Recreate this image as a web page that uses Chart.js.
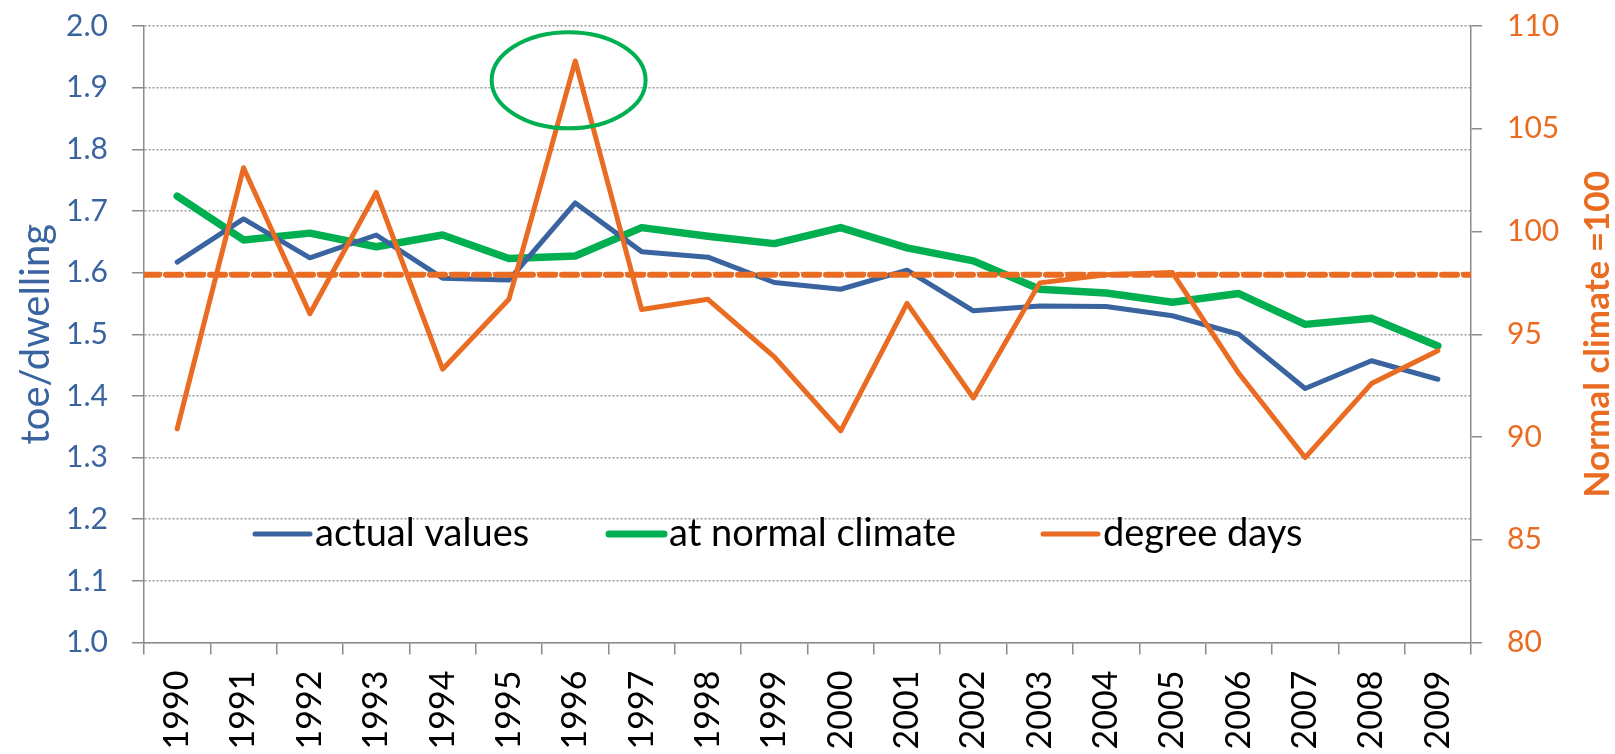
<!DOCTYPE html>
<html>
<head>
<meta charset="utf-8">
<script src="https://cdn.jsdelivr.net/npm/chart.js@4/dist/chart.umd.min.js"></script>
<style>
  html, body { margin: 0; padding: 0; background: #fff; }
  #wrap { width: 1615px; height: 754px; position: relative; }
</style>
</head>
<body>
<div id="wrap"><canvas id="bieuDo"></canvas></div>
<script>
// du lieu doc tu hinh
const years = ["1990","1991","1992","1993","1994","1995","1996","1997","1998","1999",
               "2000","2001","2002","2003","2004","2005","2006","2007","2008","2009"];
const actualValues = [1.617,1.687,1.624,1.661,1.591,1.588,1.713,1.634,1.625,1.584,
                      1.573,1.604,1.538,1.546,1.545,1.530,1.500,1.412,1.457,1.427];
const normalClimate = [1.724,1.653,1.664,1.642,1.661,1.623,1.627,1.673,1.659,1.647,
                       1.673,1.640,1.619,1.573,1.567,1.552,1.566,1.516,1.526,1.481];
const degreeDays = [90.4,103.1,96.0,101.9,93.3,96.7,108.3,96.2,96.7,93.9,
                    90.3,96.5,91.9,97.5,97.9,98.0,93.1,89.0,92.6,94.2];
const normalLevel = [97.9, 97.9];
const leftTicks = [1.0, 2.0, 0.1];   // min, max, step
const rightTicks = [80, 110, 5];
const seriesNames = ["actual values", "at normal climate", "degree days"];

const xanh = "#3A64A0";
const laCay = "#00B050";
const cam = "#EA6B22";
const xam = "#8C8C8C";

// vong elip quanh dinh 1996
const elip = { year: "1996", shift: -0.1, y: 1.912, rx: 1.16, ry: 0.078 };

const elipPlugin = {
    id: "elip",
    afterDatasetsDraw(chart) {
        const x = chart.scales.x, y = chart.scales.y;
        const i = years.indexOf(elip.year);
        const cx = x.getPixelForValue(i + elip.shift);
        const cy = y.getPixelForValue(elip.y);
        const buoc = x.getPixelForValue(1) - x.getPixelForValue(0);
        const rx = elip.rx * buoc;
        const ry = Math.abs(y.getPixelForValue(elip.y + elip.ry) - cy);
        const ctx = chart.ctx;
        ctx.save();
        ctx.strokeStyle = laCay;
        ctx.lineWidth = 4;
        ctx.beginPath();
        ctx.ellipse(cx, cy, rx, ry, 0, 0, Math.PI * 2);
        ctx.stroke();
        ctx.restore();
    }
};

// chu thich nam trong vung bieu do
const chuThichPlugin = {
    id: "chuThich",
    afterDraw(chart) {
        const ctx = chart.ctx;
        const area = chart.chartArea;
        const yPix = chart.scales.y.getPixelForValue(1.176);
        const mau = [xanh, laCay, cam];
        const day = [5, 7, 5];
        const viTri = [111, 465, 899];  // tinh tu mep trai vung ve
        ctx.save();
        ctx.font = "38px Lato";
        ctx.textBaseline = "middle";
        for (let i = 0; i < seriesNames.length; i++) {
            const x = area.left + viTri[i];
            ctx.strokeStyle = mau[i];
            ctx.lineWidth = day[i];
            ctx.lineCap = "round";
            ctx.beginPath();
            ctx.moveTo(x, yPix);
            ctx.lineTo(x + 55, yPix);
            ctx.stroke();
            ctx.fillStyle = "#000";
            ctx.fillText(seriesNames[i], x + 60, yPix);
        }
        ctx.restore();
    }
};

// tieu de truc phai, doc tu duoi len
const tieuDePhaiPlugin = {
    id: "tieuDePhai",
    afterDraw(chart) {
        const s = chart.scales.y2;
        const ctx = chart.ctx;
        ctx.save();
        ctx.translate(s.right - 17.5, (s.top + s.bottom) / 2);
        ctx.rotate(-Math.PI / 2);
        ctx.font = "bold 35px Lato";
        ctx.fillStyle = cam;
        ctx.textAlign = "center";
        ctx.textBaseline = "middle";
        ctx.fillText("Normal climate =100", 0, 0);
        ctx.restore();
    }
};

// co dinh kich thuoc cac truc
function coDinhTrai(scale) { scale.paddingTop = 0; scale.paddingBottom = 0; scale.width = 144; }
function coDinhPhai(scale) { scale.paddingTop = 0; scale.paddingBottom = 0; scale.width = 144; }
function coDinhDuoi(scale) { scale.paddingLeft = 0; scale.paddingRight = 0; scale.height = 111.5; }

const ctx = document.getElementById("bieuDo").getContext("2d");
new Chart(ctx, {
    type: "line",
    data: {
        labels: years,
        datasets: [
            { label: seriesNames[0], data: actualValues, yAxisID: "y", xAxisID: "x",
              borderColor: xanh, borderWidth: 5, order: 3 },
            { label: seriesNames[1], data: normalClimate, yAxisID: "y", xAxisID: "x",
              borderColor: laCay, borderWidth: 7.5, order: 4 },
            { label: seriesNames[2], data: degreeDays, yAxisID: "y2", xAxisID: "x",
              borderColor: cam, borderWidth: 5, order: 1 },
            { label: "normal", data: normalLevel.map((v, i) => ({ x: i, y: v })),
              yAxisID: "y2", xAxisID: "xLine",
              borderColor: cam, borderWidth: 6, borderDash: [15, 7], order: 2 }
        ]
    },
    options: {
        responsive: true,
        maintainAspectRatio: false,
        animation: false,
        layout: { padding: { top: 26, left: 0, right: 0, bottom: 0 } },
        elements: {
            point: { radius: 0 },
            line: { tension: 0, borderJoinStyle: "round", borderCapStyle: "round" }
        },
        plugins: {
            legend: { display: false },
            tooltip: { enabled: false }
        },
        scales: {
            x: {
                type: "category",
                offset: true,
                afterFit: coDinhDuoi,
                grid: { offset: true, drawOnChartArea: false, color: xam, lineWidth: 1.5, tickLength: 12 },
                border: { color: xam, width: 1.5 },
                ticks: { color: "#000", font: { family: "Lato", size: 34 },
                         minRotation: 90, maxRotation: 90, padding: 16, autoSkip: false }
            },
            xLine: {
                type: "linear", display: false, min: 0, max: 1
            },
            y: {
                position: "left",
                min: leftTicks[0], max: leftTicks[1],
                afterFit: coDinhTrai,
                ticks: { stepSize: leftTicks[2], color: xanh, padding: 24,
                         font: { family: "Lato", size: 30 },
                         callback: v => Number(v).toFixed(1) },
                grid: { color: "#9a9a9a", lineWidth: 1.5, tickLength: 12,
                        tickColor: xam, tickWidth: 1.5 },
                border: { color: xam, width: 1.5, dash: [2, 2] },
                title: { display: true, text: "toe/dwelling", color: xanh,
                         font: { family: "Lato", size: 40 }, padding: { top: 12, bottom: 4 } }
            },
            y2: {
                position: "right",
                min: rightTicks[0], max: rightTicks[1],
                afterFit: coDinhPhai,
                ticks: { stepSize: rightTicks[2], color: cam, padding: 25,
                         font: { family: "Lato", size: 30 } },
                grid: { drawOnChartArea: false, color: xam, lineWidth: 1.5, tickLength: 11 },
                border: { color: xam, width: 1.5 }
            }
        }
    },
    plugins: [elipPlugin, chuThichPlugin, tieuDePhaiPlugin]
});
</script>
</body>
</html>
